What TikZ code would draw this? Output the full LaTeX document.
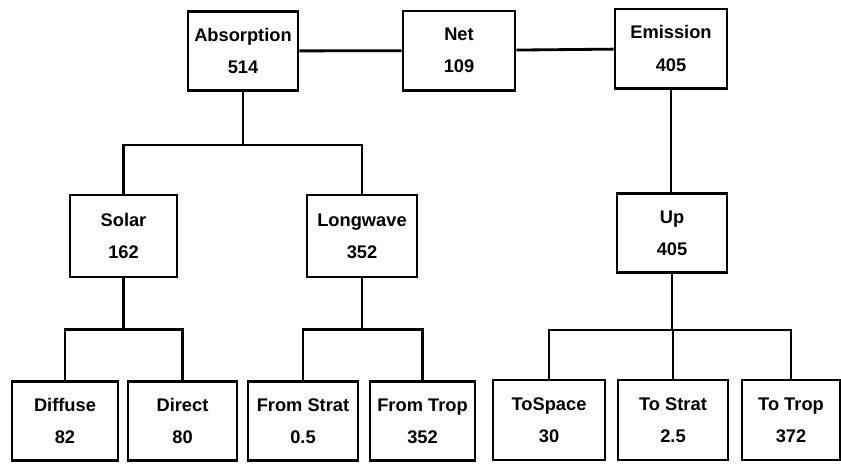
\documentclass[tikz,border=0pt]{standalone}
\usepackage{fontspec}
\setmainfont{Liberation Sans}

\begin{document}
\begin{tikzpicture}[line width=2pt,
    box/.style={draw, rectangle, minimum width=2.75cm, minimum height=1.98cm,
      align=center, font=\bfseries\fontsize{13}{23}\selectfont, inner sep=1pt}]
  \useasboundingbox (0,0) rectangle (21.025,11.575);
  % top row
  \node[box] (absorption) at (6.075, 10.3) {Absorption\\514};
  \node[box, minimum width=2.8cm] (net) at (11.475, 10.31) {Net\\109};
  \node[box, minimum width=2.8cm] (emission) at (16.775, 10.36) {Emission\\405};
  % middle row
  \node[box, minimum width=2.675cm, minimum height=2.05cm] (solar) at (3.0875, 5.675) {Solar\\162};
  \node[box, minimum height=2.05cm] (longwave) at (9.05, 5.675) {Longwave\\352};
  \node[box] (up) at (16.8, 5.75) {Up\\405};
  % bottom row
  \node[box, minimum width=2.65cm] (diffuse) at (1.625, 1.05) {Diffuse\\82};
  \node[box, minimum width=2.725cm] (direct) at (4.5625, 1.05) {Direct\\80};
  \node[box] (fromstrat) at (7.575, 1.05) {From Strat\\0.5};
  \node[box, minimum width=2.625cm] (fromtrop) at (10.5625, 1.05) {From Trop\\352};
  \node[box, minimum width=2.8cm, minimum height=2cm] (tospace) at (13.725, 1.075) {ToSpace\\30};
  \node[box, minimum height=2cm] (tostrat) at (16.825, 1.075) {To Strat\\2.5};
  \node[box, minimum width=2.45cm, minimum height=2cm] (totrop) at (19.775, 1.075) {To Trop\\372};

  \draw (absorption) -- (net);
  \draw (net) -- (emission);
  \draw (absorption.south) -- ++(0,-1.325) coordinate (absbar);
  \draw (solar.north) |- (absbar) -| (longwave.north);
  \draw (emission.south) -- (emission.south |- up.north);
  \draw (solar.south) -- ++(0,-1.275) coordinate (solbar);
  \draw (diffuse.north) |- (solbar) -| (direct.north);
  \draw (longwave.south) -- ++(0,-1.275) coordinate (lwbar);
  \draw (fromstrat.north) |- (lwbar) -| (fromtrop.north);
  \draw (up.south) -- ++(0,-1.4) coordinate (upbar);
  \draw (tospace.north) |- (upbar) -| (totrop.north);
  \draw (tostrat.north) -- (tostrat.north |- upbar);
\end{tikzpicture}
\end{document}
